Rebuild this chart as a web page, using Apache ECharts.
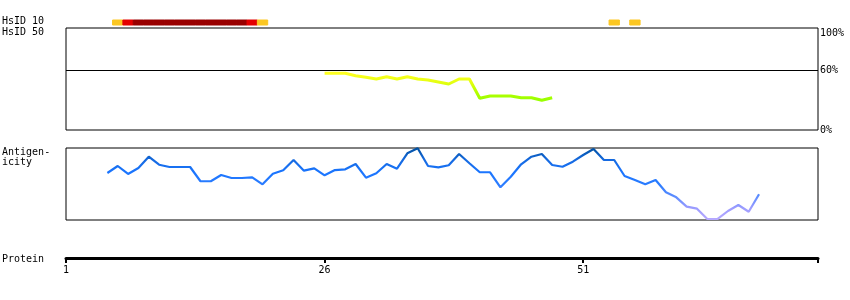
<!DOCTYPE html>
<html>
<head>
<meta charset="utf-8">
<script src="https://cdn.jsdelivr.net/npm/echarts@6/dist/echarts.min.js"></script>
<style>html,body{margin:0;padding:0;background:#fff}#c{width:850px;height:300px}</style>
</head>
<body>
<div id="c"></div>
<script>
// ---- data ----
const proteinTicks = [1, 26, 51];
const proteinEnd = 73.7;

// HsID 10 strip: residue positions and identity level (1 = low, 2 = mid, 3 = high)
const hsid10Pos   = [6, 7, 8, 9, 10, 11, 12, 13, 14, 15, 16, 17, 18, 19, 20, 54, 56];
const hsid10Level = [1, 2, 3, 3, 3, 3, 3, 3, 3, 3, 3, 3, 3, 2, 1, 1, 1];

// HsID 50 identity (%) per residue, starting at residue 26
const hsid50Start = 26;
const hsid50Values = [56.7, 56.7, 56.7, 54.3, 52.7, 51, 53.3, 51, 53.3, 51, 50, 48, 46, 51, 51,
                      31.7, 34, 34, 34, 32.3, 32.3, 29.7, 32.3];
const hsid50Ticks = [0, 60, 100];
const hsid50Cutoff = 60;

// Antigenicity per residue (0..1), starting at residue 5
const antigenStart = 5;
const antigenValues = [0.653, 0.75, 0.639, 0.722, 0.879, 0.768, 0.736, 0.736, 0.736, 0.538,
                       0.538, 0.625, 0.583, 0.583, 0.593, 0.496, 0.643, 0.69, 0.833, 0.685,
                       0.718, 0.621, 0.694, 0.704, 0.778, 0.588, 0.649, 0.778, 0.713, 0.926,
                       0.996, 0.75, 0.732, 0.76, 0.917, 0.788, 0.663, 0.663, 0.454, 0.601,
                       0.774, 0.879, 0.917, 0.764, 0.74, 0.81, 0.903, 0.986, 0.833, 0.833,
                       0.611, 0.556, 0.496, 0.556, 0.385, 0.315, 0.185, 0.157, 0.014, 0.014,
                       0.125, 0.208, 0.115, 0.357];

// ---- chart ----
const FONT = '"DejaVu Sans Mono", monospace';
const levelColors = { 1: '#fcc722', 2: '#e40000', 3: '#990000' };

const hsid10Data = hsid10Pos.map((p, i) => [p, hsid10Level[i]]);
const hsid50Data = hsid50Values.map((v, i) => [hsid50Start + i, v]);
const antigenData = antigenValues.map((v, i) => [antigenStart + i, v]);

const L = 66, R = 32;
const hiddenX = (g) => ({ type: 'value', gridIndex: g, min: 1, max: proteinEnd, show: false });

const chart = echarts.init(document.getElementById('c'), null, { renderer: 'canvas' });
chart.setOption({
  animation: false,
  backgroundColor: '#fff',
  grid: [
    { left: L, right: R, top: 20, height: 5, show: false },
    { left: L, right: R, top: 28, height: 102, show: true, borderColor: '#000', borderWidth: 1, backgroundColor: 'transparent' },
    { left: L, right: R, top: 148, height: 72, show: true, borderColor: '#000', borderWidth: 1, backgroundColor: 'transparent' },
    { left: L, right: R, top: 257, height: 1, show: false }
  ],
  xAxis: [
    hiddenX(0), hiddenX(1), hiddenX(2),
    {
      type: 'value', gridIndex: 3, min: 1, max: proteinEnd, position: 'bottom',
      splitLine: { show: false },
      axisLine: { show: true, onZero: false, lineStyle: { color: '#000', width: 3 } },
      axisTick: { show: true, length: 5, customValues: proteinTicks.concat([proteinEnd]), lineStyle: { color: '#000', width: 2 } },
      axisLabel: { show: true, customValues: proteinTicks, margin: 7, color: '#000', fontFamily: FONT, fontSize: 10,
                   formatter: (v) => String(Math.round(v)) }
    }
  ],
  yAxis: [
    { type: 'value', gridIndex: 0, min: 0, max: 1, show: false },
    {
      type: 'value', gridIndex: 1, min: 0, max: 102, position: 'right',
      splitLine: { show: false }, axisLine: { show: false }, axisTick: { show: false },
      axisLabel: { show: true, customValues: hsid50Ticks, margin: 2, color: '#000', fontFamily: FONT, fontSize: 10,
                   formatter: (v) => v === 100 ? '{top|' + v + '%}' : v + '%',
                   rich: { top: { padding: [6, 0, 0, 0], fontFamily: FONT, fontSize: 10, color: '#000' } } }
    },
    { type: 'value', gridIndex: 2, min: 0, max: 1, show: false },
    { type: 'value', gridIndex: 3, min: 0, max: 1, show: false }
  ],
  visualMap: [
    { type: 'continuous', show: false, seriesIndex: 1, dimension: 1, min: 30, max: 57,
      inRange: { color: ['#99ff00', '#bbff00', '#e6ff11', '#ffff22'] } },
    { type: 'continuous', show: false, seriesIndex: 2, dimension: 1, min: 0, max: 1,
      inRange: { color: ['#b8aaff', '#9c9cff', '#5a8cff', '#2a7cff', '#1a75ff', '#166ae0', '#0050a0'] } }
  ],
  series: [
    {
      type: 'custom', xAxisIndex: 0, yAxisIndex: 0, data: hsid10Data, silent: true,
      renderItem: (params, api) => {
        const p = api.value(0);
        const a = api.coord([p - 0.5, 1]);
        const b = api.coord([p + 0.5, 0]);
        const c = levelColors[api.value(1)];
        return { type: 'rect', shape: { x: a[0], y: a[1], width: b[0] - a[0], height: b[1] - a[1] },
                 style: { fill: c, stroke: c, lineWidth: 1 } };
      }
    },
    {
      type: 'line', xAxisIndex: 1, yAxisIndex: 1, data: hsid50Data, showSymbol: false, symbol: 'none',
      lineStyle: { width: 3 }, silent: true,
      markLine: { silent: true, symbol: 'none', label: { show: false },
                  lineStyle: { color: '#000', width: 1, type: 'solid' },
                  data: [{ yAxis: hsid50Cutoff }] }
    },
    {
      type: 'line', xAxisIndex: 2, yAxisIndex: 2, data: antigenData, showSymbol: false, symbol: 'none',
      lineStyle: { width: 2.2 }, silent: true
    }
  ],
  graphic: [
    { type: 'text', left: 2, top: 16, style: { text: 'HsID 10', font: '10px ' + FONT, fill: '#000' } },
    { type: 'text', left: 2, top: 27, style: { text: 'HsID 50', font: '10px ' + FONT, fill: '#000' } },
    { type: 'text', left: 2, top: 147, style: { text: 'Antigen-', font: '10px ' + FONT, fill: '#000' } },
    { type: 'text', left: 2, top: 157, style: { text: 'icity', font: '10px ' + FONT, fill: '#000' } },
    { type: 'text', left: 2, top: 254, style: { text: 'Protein', font: '10px ' + FONT, fill: '#000' } }
  ]
});
</script>
</body>
</html>
